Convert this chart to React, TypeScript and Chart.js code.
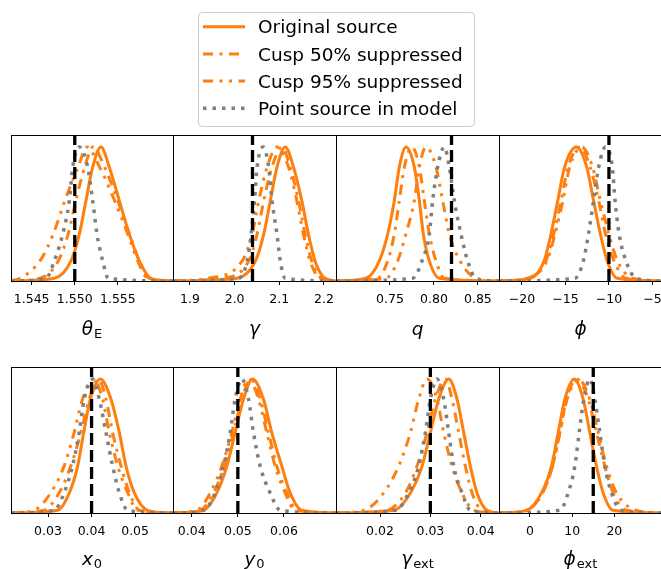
import React, { useEffect, useRef } from "react";
import { Chart, registerables } from "chart.js";

Chart.register(...registerables);

const ORANGE = "#ff7f0e";
const GRAY = "#7f7f7f";
const FONT = '"DejaVu Sans", "Liberation Sans", sans-serif';

// Normalised density levels at which each curve's x-position was read
const LEVELS = [0.02, 0.15, 0.35, 0.6, 0.85, 1, 0.85, 0.6, 0.35, 0.15, 0.02];
const Y_MAX = 1.09;

const SERIES = ["Original source", "Cusp 50% suppressed", "Cusp 95% suppressed", "Point source in model"];

// ---- theta_E ----
const thetaERange = [1.5426, 1.5614];
const thetaETicks = [1.545, 1.55, 1.555];
const thetaETickLabels = ["1.545", "1.550", "1.555"];
const thetaETruth = 1.55;
const thetaEOriginal = [1.54763, 1.54956, 1.55053, 1.5513, 1.55208, 1.55304, 1.55401, 1.55517, 1.55633, 1.55749, 1.55885];
const thetaECusp50 = [1.54596, 1.54808, 1.54923, 1.55012, 1.55115, 1.55212, 1.55346, 1.555, 1.55635, 1.5575, 1.55865];
const thetaECusp95 = [1.54365, 1.54596, 1.5475, 1.54885, 1.55038, 1.55142, 1.55288, 1.55462, 1.55615, 1.55731, 1.55846];
const thetaEPoint = [1.54666, 1.54763, 1.5486, 1.54937, 1.54976, 1.55053, 1.5515, 1.55208, 1.55258, 1.55324, 1.5539];

// ---- gamma ----
const gammaRange = [1.862, 2.227];
const gammaTicks = [1.9, 2.0, 2.1, 2.2];
const gammaTickLabels = ["1.9", "2.0", "2.1", "2.2"];
const gammaTruth = 2.04;
const gammaOriginal = [2.005, 2.04667, 2.06519, 2.08, 2.09481, 2.11333, 2.13185, 2.15037, 2.16519, 2.18, 2.20222];
const gammaCusp50 = [1.96889, 2.03185, 2.05037, 2.06519, 2.0837, 2.10593, 2.12444, 2.14296, 2.15778, 2.17259, 2.19481];
const gammaCusp95 = [1.93926, 2.01704, 2.03926, 2.05407, 2.07259, 2.09481, 2.12074, 2.13926, 2.15407, 2.16889, 2.19111];
const gammaPoint = [2.00963, 2.02815, 2.03704, 2.04444, 2.05037, 2.0637, 2.0763, 2.0837, 2.09481, 2.10222, 2.11333];

// ---- q ----
const qRange = [0.6886, 0.874];
const qTicks = [0.75, 0.8, 0.85];
const qTickLabels = ["0.75", "0.80", "0.85"];
const qTruth = 0.82;
const qOriginal = [0.72272, 0.73788, 0.74736, 0.75494, 0.76063, 0.76821, 0.77769, 0.78338, 0.78793, 0.79475, 0.80612];
const qCusp50 = [0.73599, 0.74736, 0.75494, 0.76063, 0.76632, 0.77503, 0.78338, 0.78906, 0.79475, 0.80233, 0.81181];
const qCusp95 = [0.74547, 0.75873, 0.76811, 0.77769, 0.78338, 0.79096, 0.80233, 0.80991, 0.8175, 0.82963, 0.84782];
const qPoint = [0.77579, 0.78641, 0.79475, 0.79854, 0.80422, 0.81181, 0.8175, 0.82318, 0.83076, 0.83834, 0.84782];

// ---- phi ----
const phiRange = [-22.64, -3.9];
const phiTicks = [-20, -15, -10, -5];
const phiTickLabels = ["\u221220", "\u221215", "\u221210", "\u22125"];
const phiTruth = -10;
const phiOriginal = [-19.02, -17.452, -16.668, -15.884, -15.1, -13.728, -12.552, -11.768, -10.984, -10.2, -9.024];
const phiCusp50 = [-19.412, -17.256, -16.354, -15.492, -14.708, -13.336, -12.16, -11.18, -10.396, -9.416, -8.044];
const phiCusp95 = [-19.412, -17.138, -16.198, -15.296, -14.512, -13.14, -11.886, -10.984, -10.004, -9.024, -7.26];
const phiPoint = [-13.924, -12.944, -12.356, -11.768, -11.18, -10.396, -9.612, -9.298, -8.828, -8.044, -6.868];

// ---- x0 ----
const x0Range = [0.0215, 0.0587];
const x0Ticks = [0.03, 0.04, 0.05];
const x0TickLabels = ["0.03", "0.04", "0.05"];
const x0Truth = 0.04;
const x0Original = [0.03222, 0.03489, 0.03681, 0.03819, 0.03972, 0.04201, 0.04446, 0.04638, 0.04791, 0.04982, 0.05288];
const x0Cusp50 = [0.02908, 0.03254, 0.03523, 0.03754, 0.03946, 0.04154, 0.04331, 0.04484, 0.04677, 0.04869, 0.051];
const x0Cusp95 = [0.02677, 0.03062, 0.03369, 0.036, 0.03792, 0.04046, 0.04254, 0.04408, 0.046, 0.04831, 0.05061];
const x0Point = [0.03139, 0.03369, 0.03562, 0.03715, 0.03831, 0.04023, 0.04177, 0.04331, 0.04484, 0.04638, 0.04831];

// ---- y0 ----
const y0Range = [0.03595, 0.07127];
const y0Ticks = [0.04, 0.05, 0.06];
const y0TickLabels = ["0.04", "0.05", "0.06"];
const y0Truth = 0.05;
const y0Original = [0.04256, 0.04545, 0.04762, 0.04942, 0.05123, 0.05318, 0.05556, 0.05736, 0.05953, 0.06134, 0.06386];
const y0Cusp50 = [0.04184, 0.04473, 0.04704, 0.04906, 0.05087, 0.05282, 0.05484, 0.05664, 0.05845, 0.06061, 0.06278];
const y0Cusp95 = [0.04112, 0.04401, 0.04653, 0.0487, 0.05051, 0.05231, 0.05448, 0.05628, 0.05809, 0.06025, 0.06242];
const y0Point = [0.04256, 0.04509, 0.0469, 0.04834, 0.04942, 0.05087, 0.05231, 0.05339, 0.05484, 0.057, 0.05917];

// ---- gamma_ext ----
const gammaExtRange = [0.01126, 0.04363];
const gammaExtTicks = [0.02, 0.03, 0.04];
const gammaExtTickLabels = ["0.02", "0.03", "0.04"];
const gammaExtTruth = 0.03;
const gammaExtOriginal = [0.02272, 0.02603, 0.02835, 0.03, 0.03166, 0.03364, 0.0353, 0.03662, 0.03794, 0.03927, 0.04125];
const gammaExtCusp50 = [0.02139, 0.02504, 0.02735, 0.02934, 0.03099, 0.03298, 0.0343, 0.03563, 0.03695, 0.03828, 0.04026];
const gammaExtCusp95 = [0.01676, 0.02073, 0.02371, 0.02603, 0.02768, 0.02934, 0.03132, 0.03265, 0.0343, 0.03629, 0.03861];
const gammaExtPoint = [0.02305, 0.0257, 0.02768, 0.02901, 0.03, 0.03132, 0.03265, 0.03364, 0.03463, 0.03629, 0.03794];

// ---- phi_ext ----
const phiExtRange = [-7.35, 31.3];
const phiExtTicks = [0, 10, 20];
const phiExtTickLabels = ["0", "10", "20"];
const phiExtTruth = 15;
const phiExtOriginal = [-0.823, 2.732, 5.102, 6.682, 8.262, 10.474, 12.607, 14.187, 15.767, 17.347, 19.717];
const phiExtCusp50 = [-0.823, 2.969, 5.339, 7.077, 8.657, 11.027, 13.792, 15.767, 17.742, 19.717, 22.877];
const phiExtCusp95 = [-0.823, 2.969, 5.339, 7.077, 8.815, 11.422, 14.187, 16.162, 18.137, 20.507, 25.247];
const phiExtPoint = [7.077, 9.052, 10.632, 11.659, 12.765, 14.187, 15.372, 16.557, 17.742, 19.322, 21.692];

const PANELS = [
  { main: "\u03b8", sub: "E", range: thetaERange, ticks: thetaETicks, labels: thetaETickLabels, truth: thetaETruth, curves: [thetaEOriginal, thetaECusp50, thetaECusp95, thetaEPoint] },
  { main: "\u03b3", sub: "", range: gammaRange, ticks: gammaTicks, labels: gammaTickLabels, truth: gammaTruth, curves: [gammaOriginal, gammaCusp50, gammaCusp95, gammaPoint] },
  { main: "q", sub: "", range: qRange, ticks: qTicks, labels: qTickLabels, truth: qTruth, curves: [qOriginal, qCusp50, qCusp95, qPoint] },
  { main: "\u03d5", sub: "", range: phiRange, ticks: phiTicks, labels: phiTickLabels, truth: phiTruth, curves: [phiOriginal, phiCusp50, phiCusp95, phiPoint] },
  { main: "x", sub: "0", range: x0Range, ticks: x0Ticks, labels: x0TickLabels, truth: x0Truth, curves: [x0Original, x0Cusp50, x0Cusp95, x0Point] },
  { main: "y", sub: "0", range: y0Range, ticks: y0Ticks, labels: y0TickLabels, truth: y0Truth, curves: [y0Original, y0Cusp50, y0Cusp95, y0Point] },
  { main: "\u03b3", sub: "ext", range: gammaExtRange, ticks: gammaExtTicks, labels: gammaExtTickLabels, truth: gammaExtTruth, curves: [gammaExtOriginal, gammaExtCusp50, gammaExtCusp95, gammaExtPoint] },
  { main: "\u03d5", sub: "ext", range: phiExtRange, ticks: phiExtTicks, labels: phiExtTickLabels, truth: phiExtTruth, curves: [phiExtOriginal, phiExtCusp50, phiExtCusp95, phiExtPoint] },
];

const STYLES = [
  { color: ORANGE, dash: [] as number[], width: 3 },
  { color: ORANGE, dash: [10, 6.5, 3, 6.5], width: 3 },
  { color: ORANGE, dash: [10, 6.5, 3, 6.5, 3, 6.5], width: 3 },
  { color: GRAY, dash: [3.5, 6], width: 3.5 },
];

// layout
const PLOT_LEFTS = [11, 173, 336, 499];
const PLOT_WIDTHS = [162, 163, 163, 163];
const PLOT_TOPS = [135, 367];
const PLOT_H = 146;
const TITLE_OFFSETS = [54, 52];
const PAD = 30;
const TOP_PAD = 2;
const BOTTOM = 62;

const framePlugin = {
  id: "frameBox",
  afterDraw(chart: any) {
    const { ctx, chartArea } = chart;
    ctx.save();
    ctx.strokeStyle = "#000";
    ctx.lineWidth = 1;
    const l = Math.round(chartArea.left) + 0.5;
    const t = Math.round(chartArea.top) + 0.5;
    const w = Math.round(chartArea.right) - Math.round(chartArea.left);
    const h = Math.round(chartArea.bottom) - Math.round(chartArea.top);
    ctx.strokeRect(l, t, w, h);
    ctx.restore();
  },
};

const titlePlugin = {
  id: "paramTitle",
  afterDraw(chart: any, _args: any, opts: any) {
    const { ctx, chartArea } = chart;
    const mainFont = `italic 18.5px ${FONT}`;
    const subFont = `13px ${FONT}`;
    ctx.save();
    ctx.font = mainFont;
    const mw = ctx.measureText(opts.main).width;
    ctx.font = subFont;
    const sw = opts.sub ? ctx.measureText(opts.sub).width + 1 : 0;
    const x0 = (chartArea.left + chartArea.right) / 2 - (mw + sw) / 2;
    const y = chartArea.bottom + opts.offset;
    ctx.fillStyle = "#000";
    ctx.textAlign = "left";
    ctx.textBaseline = "alphabetic";
    ctx.font = mainFont;
    ctx.fillText(opts.main, x0, y);
    if (opts.sub) {
      ctx.font = subFont;
      ctx.fillText(opts.sub, x0 + mw + 1, y + 3);
    }
    ctx.restore();
  },
};

function Panel({ index }: { index: number }) {
  const ref = useRef<HTMLCanvasElement>(null);
  const row = Math.floor(index / 4);
  const col = index % 4;
  const plotW = PLOT_WIDTHS[col];
  const cw = plotW + 2 * PAD;
  const ch = TOP_PAD + PLOT_H + BOTTOM;
  const left = PLOT_LEFTS[col] - PAD;
  const top = PLOT_TOPS[row] - TOP_PAD;

  useEffect(() => {
    const p = PANELS[index];
    const [xmin, xmax] = p.range;
    const datasets: any[] = p.curves.map((xs, si) => ({
      label: SERIES[si],
      data: [{ x: xmin, y: 0 }, ...xs.map((x, i) => ({ x, y: LEVELS[i] })), { x: xmax, y: 0 }],
      borderColor: STYLES[si].color,
      borderWidth: STYLES[si].width,
      borderDash: STYLES[si].dash,
      borderCapStyle: "butt",
      borderJoinStyle: "round",
      cubicInterpolationMode: "monotone",
      pointRadius: 0,
      fill: false,
      order: 4 - si,
    }));
    datasets.push({
      label: "truth",
      data: [{ x: p.truth, y: 0 }, { x: p.truth, y: Y_MAX }],
      borderColor: "#000",
      borderWidth: 3.3,
      borderDash: [12, 5],
      pointRadius: 0,
      fill: false,
      order: 0,
    });
    const chart = new Chart(ref.current as HTMLCanvasElement, {
      type: "line",
      data: { datasets },
      options: {
        responsive: false,
        animation: false,
        devicePixelRatio: 1,
        events: [],
        layout: { padding: { left: PAD, right: PAD, top: TOP_PAD, bottom: 0 } },
        plugins: {
          legend: { display: false },
          tooltip: { enabled: false },
          paramTitle: { main: p.main, sub: p.sub, offset: TITLE_OFFSETS[row] },
        } as any,
        scales: {
          x: {
            type: "linear",
            position: "bottom",
            min: xmin,
            max: xmax,
            afterFit: (s: any) => {
              s.height = BOTTOM;
            },
            afterBuildTicks: (s: any) => {
              s.ticks = p.ticks.map((v) => ({ value: v }));
            },
            ticks: {
              autoSkip: false,
              maxRotation: 0,
              minRotation: 0,
              padding: 7,
              color: "#000",
              font: { family: FONT, size: 12.5 },
              callback: (_v: any, i: number) => p.labels[i],
            },
            grid: { display: true, drawOnChartArea: false, drawTicks: true, tickLength: 4, color: "#000", lineWidth: 1 },
            border: { display: false },
          },
          y: { display: false, min: 0, max: Y_MAX },
        },
      } as any,
      plugins: [framePlugin, titlePlugin],
    });
    return () => chart.destroy();
  }, [index]);

  return (
    <canvas
      ref={ref}
      width={cw}
      height={ch}
      style={{ position: "absolute", left, top, width: cw, height: ch }}
    />
  );
}

const LEGEND_DASHES = ["", "10 6.5 3 6.5", "10 6.5 3 6.5 3 6.5", "3.5 6"];

function Legend() {
  return (
    <svg width={661} height={140} style={{ position: "absolute", left: 0, top: 0 }}>
      <rect x={198.5} y={12.5} width={276} height={114} rx={4} ry={4} fill="#ffffff" stroke="#cccccc" strokeWidth={1} />
      {SERIES.map((name, i) => {
        const y = 26.7 + i * 27.2;
        return (
          <g key={name}>
            <line
              x1={203}
              x2={245}
              y1={y}
              y2={y}
              stroke={STYLES[i].color}
              strokeWidth={STYLES[i].width}
              strokeDasharray={LEGEND_DASHES[i] || undefined}
            />
            <text x={258} y={y + 6.7} fontFamily="DejaVu Sans" fontSize={18.5} fill="#000">
              {name}
            </text>
          </g>
        );
      })}
    </svg>
  );
}

export default function App() {
  return (
    <div style={{ position: "absolute", left: 0, top: 0, width: 661, height: 569, overflow: "hidden", background: "#fff" }}>
      {PANELS.map((_, i) => (
        <Panel key={i} index={i} />
      ))}
      <Legend />
    </div>
  );
}
